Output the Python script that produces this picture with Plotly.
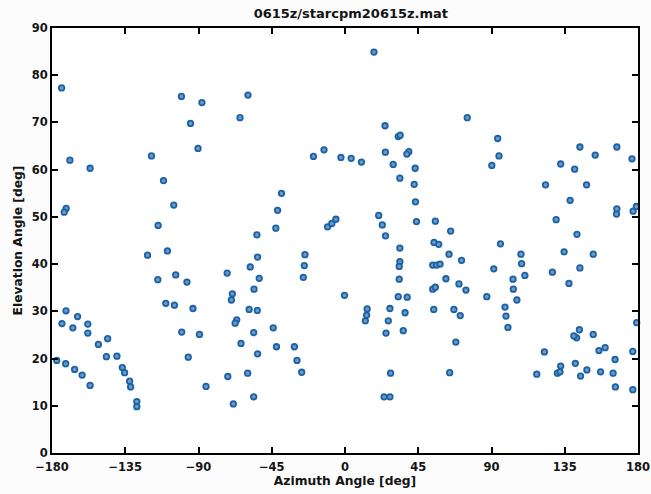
import plotly.graph_objects as go

title_text = "0615z/starcpm20615z.mat"
x_title = "Azimuth Angle [deg]"
y_title = "Elevation Angle [deg]"
x_ticks = [-180, -135, -90, -45, 0, 45, 90, 135, 180]
y_ticks = [0, 10, 20, 30, 40, 50, 60, 70, 80, 90]

azimuth = [
    -174.1, -169.0, -156.6, -171.3, -172.5, -118.9, -111.5, -105.2, -114.8, -100.5,
    -87.9, -94.9, -90.3,
    -121.3, -109.1, -115.0, -104.0, -97.1, -110.1, -104.8, -93.4, -100.3, -89.4,
    -96.3, -85.4,
    -171.4, -173.9, -164.3, -167.2, -158.0, -158.0, -151.5, -145.8, -146.6, -140.1,
    -136.8, -135.4, -132.3, -131.7, -127.9, -127.9,
    -177.1, -171.6, -166.1, -161.5, -156.6,
    -59.6, -64.5, 17.8, 24.6, 32.7, 33.9, 39.2, 38.0, 24.8, 29.6, 33.7, 43.1, 42.5,
    43.3, 43.9,
    -19.4, -12.9, -2.5, 3.8, 10.1, -39.0, -41.4, -42.5, -54.1, -10.7, -8.1, -5.6,
    20.7, 22.9, 24.9,
    -53.7, -58.2, -72.4, -52.7, -55.9, -69.2, -69.8, -58.9, -53.9, -66.5, -67.5,
    -56.1, -44.1, -63.9, -53.7, -42.1, -31.1, -29.5, -26.6, -59.8, -72.0, -56.1,
    -68.6,
    -24.6, -25.0, -25.6, -0.3, 13.6, 13.3, 12.5,
    33.7, 33.7, 33.3, 33.3, 32.7, 38.2, 27.6, 36.9, 26.6, 35.8, 25.2, 28.0, 24.0, 27.6,
    75.1, 93.8, 94.6, 90.2, 55.5, 64.9,
    132.5, 144.3, 153.7, 167.0, 176.3, 141.1, 123.2, 148.4, 138.3, 167.0, 166.8,
    177.0, 179.0, 129.7, 142.5,
    54.7, 57.6, 95.5, 63.9, 71.6, 53.9, 56.3, 58.4, 108.1, 108.5, 110.5, 91.4, 103.2,
    103.4, 105.6, 98.3, 98.9, 100.1, 87.1, 62.0, 70.0, 74.3, 53.9, 55.5, 54.5, 66.9,
    70.8, 68.1, 64.3,
    134.6, 152.5, 127.4, 144.3, 137.6, 142.3, 140.6, 144.0, 152.5, 179.2, 122.5,
    156.0, 159.8, 165.9, 176.8, 132.5, 141.5, 148.6, 157.0, 164.7, 130.5, 132.1,
    144.7, 117.8, 166.1, 176.8,
]

elevation = [
    77.3, 62.0, 60.3, 51.8, 51.0, 62.9, 57.7, 52.5, 48.2, 75.5,
    74.2, 69.8, 64.5,
    41.9, 42.8, 36.7, 37.7, 36.2, 31.7, 31.3, 30.6, 25.6, 25.1,
    20.3, 14.1,
    30.1, 27.4, 28.9, 26.5, 27.3, 25.4, 23.0, 24.2, 20.4, 20.5,
    18.1, 17.0, 15.2, 14.0, 10.9, 9.8,
    19.6, 18.9, 17.7, 16.5, 14.3,
    75.8, 71.0, 84.9, 69.3, 67.0, 67.3, 63.8, 63.3, 63.7, 61.1, 58.2, 60.3, 56.9,
    53.2, 49.0,
    62.8, 64.2, 62.6, 62.4, 61.6, 55.0, 51.4, 47.6, 46.2, 47.9, 48.6, 49.5,
    50.3, 48.3, 46.0,
    41.5, 39.4, 38.1, 37.0, 34.7, 33.7, 32.4, 30.4, 30.2, 28.2, 27.5,
    25.5, 26.5, 23.2, 21.0, 22.5, 22.5, 19.6, 17.1, 16.9, 16.2, 11.9,
    10.4,
    42.0, 39.7, 37.2, 33.4, 30.5, 29.2, 28.0,
    43.4, 40.5, 39.5, 36.8, 33.1, 33.0, 30.6, 29.7, 28.0, 25.9, 25.4, 16.9, 11.9, 11.9,
    71.0, 66.6, 62.9, 60.9, 49.1, 47.0,
    61.2, 64.8, 63.1, 64.8, 62.3, 60.1, 56.8, 56.8, 53.5, 51.7, 50.6,
    51.2, 52.2, 49.4, 46.3,
    44.6, 44.2, 44.3, 42.1, 40.8, 39.8, 39.8, 40.0, 42.1, 40.1, 37.6, 39.0, 36.8,
    34.7, 32.4, 30.9, 29.0, 26.6, 33.1, 36.9, 35.8, 34.5, 34.7, 35.1, 30.4, 30.4,
    29.1, 23.5, 17.0,
    42.6, 42.1, 38.3, 39.2, 35.9, 24.4, 24.8, 26.1, 25.1, 27.6, 21.4,
    21.7, 22.3, 19.8, 21.5, 18.4, 19.0, 17.6, 17.2, 16.9, 16.9, 17.2,
    16.3, 16.7, 14.0, 13.4,
]

fig = go.Figure()
fig.add_trace(go.Scatter(
    x=azimuth, y=elevation, mode="markers",
    marker=dict(symbol="circle", size=5.5, color="#6f98c4",
                line=dict(color="#1a62a6", width=1.8)),
    showlegend=False, cliponaxis=False,
))

FONT = "DejaVu Sans, Verdana, sans-serif"
tick_font = dict(family=FONT, size=11.5, color="#141414", weight="bold")
title_font = dict(family=FONT, size=12.3, color="#141414", weight="bold")

fig.update_layout(
    width=651, height=494,
    margin=dict(l=52, r=13, t=28, b=41, autoexpand=False),
    paper_bgcolor="#fcfcfd", plot_bgcolor="#ffffff",
    title=dict(text=title_text, x=0.51, xanchor="center", xref="paper",
               y=1 - 13 / 494, yref="container", yanchor="middle",
               font=dict(family=FONT, size=13, color="#141414", weight="bold")),
    font=tick_font,
)
fig.update_xaxes(
    range=[-180, 180], tickvals=x_ticks, ticktext=[str(v).replace("-", "\u2212") for v in x_ticks],
    showgrid=False, zeroline=False, showline=True, linecolor="black", linewidth=2,
    mirror="ticks", ticks="inside", ticklen=6, tickwidth=1.5, tickcolor="black",
    automargin=False, ticklabeloverflow="allow", ticklabelstandoff=2,
    title=dict(text=x_title, standoff=0, font=title_font), tickfont=tick_font,
)
fig.update_yaxes(
    range=[0, 90], tickvals=y_ticks, ticktext=[str(v) for v in y_ticks],
    showgrid=False, zeroline=False, showline=True, linecolor="black", linewidth=2,
    mirror="ticks", ticks="inside", ticklen=6, tickwidth=1.5, tickcolor="black",
    automargin=False, ticklabeloverflow="allow",
    title=dict(text=y_title, standoff=6, font=title_font), tickfont=tick_font,
)

fig.write_html("out.html", config={"displayModeBar": False},
               post_script="document.body.style.margin='0px';")
